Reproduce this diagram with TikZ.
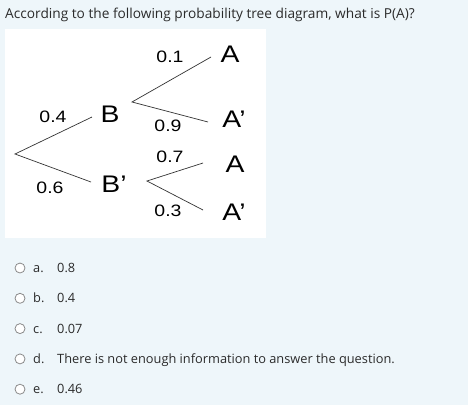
\documentclass[tikz,border=0pt]{standalone}
\usepackage{fontspec}
\setmainfont{Open Sans}
\newfontfamily\arialf[FakeStretch=1.18]{Liberation Sans}
\definecolor{bgc}{HTML}{EEF6FA}
\definecolor{txt}{HTML}{2B2B2B}
\definecolor{circ}{HTML}{8A8A8A}
\tikzset{
  lab/.style={font=\arialf\fontsize{16.5}{16}\selectfont, inner sep=0pt, text=black},
  ev/.style={font=\arialf\fontsize{24}{24}\selectfont, inner sep=0pt, text=black},
  br/.style={draw=black!80, line width=0.7pt},
  opt/.style={font=\fontsize{12.8}{14}\selectfont, text=txt, inner sep=0pt, anchor=base west},
  radio/.style={circle, draw=circ, fill=white, line width=0.8pt, minimum size=10pt, inner sep=0pt}
}
\begin{document}
\begin{tikzpicture}[x=1pt,y=-1pt]
\fill[bgc] (0,0) rectangle (468,405);
\useasboundingbox (0,0) rectangle (468,405);
\node[font=\fontsize{13.7}{15}\selectfont, text=txt, inner sep=0pt, anchor=base west] (title) at (5,18) {According to the following probability tree diagram, what is P(A)?};
\fill[white] (5,29) rectangle (266,238);
% tree
\coordinate (root) at (15,154);
\coordinate (bend) at (92,117);
\coordinate (bpend) at (91,182);
\coordinate (bb) at (132,102);
\coordinate (bA) at (211,57);
\coordinate (bAp) at (208,122);
\coordinate (bpb) at (147,181);
\coordinate (bpA) at (203,163);
\coordinate (bpAp) at (203,210);
\draw[br] (bend) -- (root) -- (bpend);
\draw[br] (bA) -- (bb) -- (bAp);
\draw[br] (bpA) -- (bpb) -- (bpAp);
\node[ev] (B) at (110,114) {B};
\node[ev] (Bp) at (114,184) {B’};
\node[ev] (A1) at (230,54) {A};
\node[ev] (A2) at (234,119) {A’};
\node[ev] (A3) at (235,164) {A};
\node[ev] (A4) at (234,212) {A’};
\node[lab] (l04) at (53,117) {0.4};
\node[lab] (l06) at (50,188) {0.6};
\node[lab] (l01) at (170,57) {0.1};
\node[lab] (l09) at (168,126) {0.9};
\node[lab] (l07) at (170,157) {0.7};
\node[lab] (l03) at (168,211) {0.3};
% options
\foreach \i/\l/\t in {0/a./0.8, 1/b./0.4, 2/c./0.07, 3/d./There is not enough information to answer the question., 4/e./0.46} {
  \node[radio] (r\i) at (20,268+30.3*\i) {};
  \node[opt] (k\i) at (33,272.5+30.3*\i) {\l};
  \node[opt] (v\i) at (57,272.5+30.3*\i) {\t};
}
\end{tikzpicture}
\end{document}
